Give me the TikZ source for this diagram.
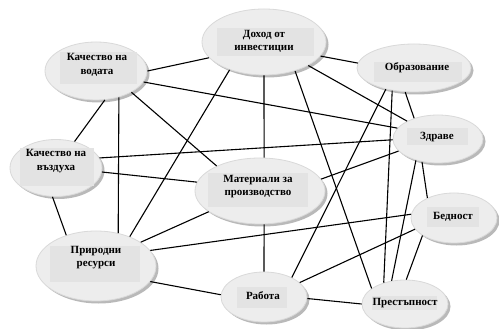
\documentclass[tikz,border=0pt]{standalone}
\usepackage{fontspec}
\setmainfont{Liberation Serif}
\usetikzlibrary{shapes.geometric,shadows}
\tikzset{
  bub/.style n args={2}{ellipse, inner sep=0pt, minimum width=#1, minimum height=#2,
    fill=gray!14, draw=gray!30, line width=0.8pt,
    drop shadow={shadow xshift=2.5pt, shadow yshift=-2.5pt, fill=gray!55, opacity=1}},
  tbg/.style n args={2}{inner sep=0pt, minimum width=#1, minimum height=#2, fill=gray!22},
  lbl/.style={font=\bfseries\fontsize{11}{13.5}\selectfont, align=center, inner sep=0pt},
  link/.style={line width=1.1pt, black}
}
\begin{document}
\begin{tikzpicture}[x=1pt,y=-1pt]
\useasboundingbox[fill=white] (0,0) rectangle (499,329);
% ellipses
\node[bub={102pt}{58pt}] (vod) at (96,71) {};
\node[bub={124pt}{66pt}] (doh) at (264,42) {};
\node[bub={114pt}{48pt}] (obr) at (414,68) {};
\node[bub={90pt}{48pt}] (zdr) at (438,139) {};
\node[bub={92pt}{57pt}] (vaz) at (56,168) {};
\node[bub={130pt}{66pt}] (mat) at (260,191) {};
\node[bub={120pt}{70pt}] (pri) at (96,266) {};
\node[bub={86pt}{50pt}] (rab) at (264,297) {};
\node[bub={86pt}{48pt}] (pre) at (405,304) {};
\node[bub={86pt}{50pt}] (bed) at (454,218) {};
% text backgrounds
\node[tbg={77pt}{32pt}] (vod-b) at (98,68) {};
\node[tbg={97pt}{28pt}] (doh-b) at (265,42) {};
\node[tbg={88pt}{20pt}] (obr-b) at (418,72) {};
\node[tbg={61pt}{17pt}] (zdr-b) at (437,137) {};
\node[tbg={74pt}{38pt}] (vaz-b) at (57,167) {};
\node[tbg={100pt}{34pt}] (mat-b) at (258,190) {};
\node[tbg={90pt}{36pt}] (pri-b) at (95,264) {};
\node[tbg={50pt}{21pt}] (rab-b) at (262,297) {};
\node[tbg={65pt}{14pt}] (pre-b) at (404,303) {};
\node[tbg={52pt}{20pt}] (bed-b) at (453,217) {};
% texts
\node[lbl] (vod-t) at (97,65) {Качество на\\водата};
\node[lbl] (doh-t) at (264,41.5) {Доход от\\инвестиции};
\node[lbl] (obr-t) at (417,68) {Образование};
\node[lbl] (zdr-t) at (437,137) {Здраве};
\node[lbl] (vaz-t) at (56,161) {Качество на\\въздуха};
\node[lbl] (mat-t) at (258,186.5) {Материали за\\производство};
\node[lbl] (pri-t) at (96,257.5) {Природни\\ресурси};
\node[lbl] (rab-t) at (263,296) {Работа};
\node[lbl] (pre-t) at (405,303) {Престъпност};
\node[lbl] (bed-t) at (453,217) {Бедност};
% connectors
\draw[link] (vod.0) -- (doh.196);
\draw[link] (vod.-13) -- (zdr.165);
\draw[link] (vod.-73) -- (vaz.55);
\draw[link] (vod.-49) -- (pri.56);
\draw[link] (vod.-31) -- (mat.150);
\draw[link] (doh.219) -- (pri.41);
\draw[link] (doh.-90) -- (mat.83);
\draw[link] (doh.-14.5) -- (obr.175);
\draw[link] (doh.-28) -- (zdr.150);
\draw[link] (doh.-43) -- (pre.155);
\draw[link] (vaz.13) -- (zdr.181);
\draw[link] (vaz.-5) -- (mat.172);
\draw[link] (vaz.-97) -- (pri.134);
\draw[link] (mat.202) -- (pri.28);
\draw[link] (mat.-83) -- (rab.90);
\draw[link] (mat.11) -- (zdr.197);
\draw[link] (obr.217) -- (rab.35);
\draw[link] (obr.226) -- (pre.135);
\draw[link] (obr.250) -- (zdr.139);
\draw[link] (zdr.224) -- (pre.120);
\draw[link] (zdr.235) -- (bed.143);
\draw[link] (bed.209) -- (pre.87);
\draw[link] (bed.175) -- (pri.16);
\draw[link] (bed.196) -- (rab.22);
\draw[link] (rab.177) -- (pri.-16);
\draw[link] (rab.-2) -- (pre.180);
\end{tikzpicture}
\end{document}
